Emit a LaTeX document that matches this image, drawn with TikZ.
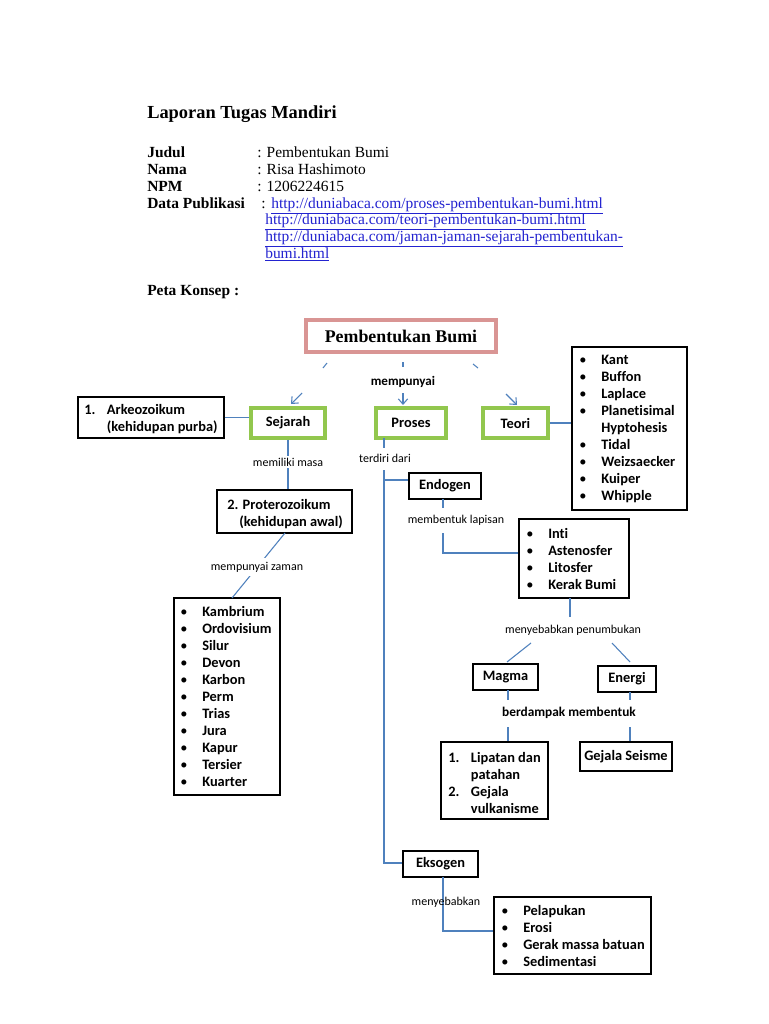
\documentclass[tikz,border=0pt]{standalone}
\usepackage{fontspec}
\setmainfont{Liberation Serif}
\newfontfamily\calfont[Ligatures=NoCommon]{Carlito}
\usetikzlibrary{fit,arrows.meta}
\definecolor{pinkb}{HTML}{D99594}
\definecolor{greenb}{HTML}{92C74E}
\definecolor{lineb}{HTML}{4F81BD}
\definecolor{linkb}{HTML}{2323D0}
\newcommand\bl{\textmd{\textbullet}}
\newcommand\blist[1]{\begin{tabular}[t]{@{}p{16.5pt}@{}l@{}}#1\end{tabular}}
\newcommand\nlist[1]{\begin{tabular}[t]{@{}p{17pt}@{}l@{}}#1\end{tabular}}
\tikzset{
  hdr/.style={anchor=base west, inner sep=0, font=\fontsize{11.6}{14}\selectfont},
  hdrb/.style={hdr, font=\bfseries\fontsize{11.6}{14}\selectfont},
  lnk/.style={hdr, text=linkb},
  blkbox/.style={draw=black, line width=0.9pt, inner sep=0},
  grnbox/.style={draw=greenb, line width=2.6pt, inner sep=0},
  boxtxt/.style={inner sep=0, font=\calfont\bfseries\fontsize{10.8}{12.75}\selectfont},
  listtxt/.style={anchor=base west, inner sep=0, font=\calfont\bfseries\fontsize{10.8}{12.75}\selectfont},
  conn/.style={draw=lineb, line width=0.8pt},
  arr/.style={draw=lineb, line width=0.8pt, -{Straight Barb[length=4pt,width=7pt]}},
  lbl/.style={inner sep=1pt, fill=white, font=\calfont\fontsize{9}{11}\selectfont},
}
\begin{document}
\begin{tikzpicture}[x=0.75pt,y=-0.75pt]
\useasboundingbox (0,0) rectangle (768,1024);
\fill[white] (0,0) rectangle (768,1024);
% header
\node[anchor=base west, inner sep=0, font=\bfseries\fontsize{13.8}{16}\selectfont] (title) at (147,118) {Laporan Tugas Mandiri};
\node[hdrb] (kjudul) at (147,157) {Judul};
\node[hdrb] (knama) at (147,174) {Nama};
\node[hdrb] (knpm) at (147,191) {NPM};
\node[hdrb] (kdata) at (147,208) {Data Publikasi};
\node[hdr] (vjudul) at (257,157) {: Pembentukan Bumi};
\node[hdr] (vnama) at (257,174) {: Risa Hashimoto};
\node[hdr] (vnpm) at (257,191) {: 1206224615};
\node[hdr] (vcol) at (261,208) {:};
\node[lnk] (l1) at (271,208) {\underline{http://duniabaca.com/proses-pembentukan-bumi.html}};
\node[lnk] (l2) at (265,224) {\underline{http://duniabaca.com/teori-pembentukan-bumi.html}};
\node[lnk] (l3) at (265,241) {\underline{http://duniabaca.com/jaman-jaman-sejarah-pembentukan-}};
\node[lnk] (l4) at (265,258) {\underline{bumi.html}};
\node[hdrb] (peta) at (147,295) {Peta Konsep :};

% main title box
\node[draw=pinkb, line width=2.6pt, inner sep=0, fit={(306,320)(496,352)}] (pb) {};
\node[inner sep=0, font=\bfseries\fontsize{13.4}{16}\selectfont] (pbt) at (pb.center) {Pembentukan Bumi};

% level 1
\node[grnbox, fit={(251,408)(325,438)}] (sej) {};
\node[boxtxt] (sejt) at (sej.center) {Sejarah};
\node[grnbox, fit={(376,408)(446,438)}] (pros) {};
\node[boxtxt] (prost) at (pros.center) {Proses};
\node[grnbox, fit={(483,408)(548,438)}] (teori) {};
\node[boxtxt] (teorit) at (teori.center) {Teori};
\node[inner sep=1pt, font=\calfont\bfseries\fontsize{9.8}{12}\selectfont] (mpy) at (403,382) {mempunyai};

% arrows from title
\coordinate (ta1) at (327,363); \coordinate (tb1) at (323,368);
\coordinate (tc1) at (302,393); \coordinate (td1) at (291,404);
\draw[conn] (ta1) -- (tb1);
\draw[arr] (tc1) -- (td1);
\coordinate (ta2) at (403,362); \coordinate (tb2) at (403,367);
\coordinate (tc2) at (403,393); \coordinate (td2) at (403,405);
\draw[conn] (ta2) -- (tb2);
\draw[arr] (tc2) -- (td2);
\coordinate (ta3) at (473,364); \coordinate (tb3) at (478,368);
\coordinate (tc3) at (506,394); \coordinate (td3) at (517,405);
\draw[conn] (ta3) -- (tb3);
\draw[arr] (tc3) -- (td3);

% Arkeozoikum
\node[blkbox, fit={(78,397)(224,438)}] (arkeo) {};
\node[listtxt] (arkeot) at (84,414) {\nlist{1. & Arkeozoikum\\ & (kehidupan purba)}};
\draw[conn] (arkeo.east) -- (arkeo.east -| sej.west);

% Teori list
\node[blkbox, fit={(572,347)(687,510)}] (tlist) {};
\node[listtxt] (tlistt) at (579,364) {\blist{\bl & Kant\\ \bl & Buffon\\ \bl & Laplace\\ \bl & Planetisimal\\ & Hyptohesis\\ \bl & Tidal\\ \bl & Weizsaecker\\ \bl & Kuiper\\ \bl & Whipple}};
\draw[conn] (teori.east) -- (teori.east -| tlist.west);

% Sejarah branch
\node[blkbox, fit={(217,490)(352,533)}] (prot) {};
\node[listtxt] (prott) at (227,509) {\begin{tabular}[t]{@{}l@{}}2. Proterozoikum\\ \hspace{9pt}(kehidupan awal)\end{tabular}};
\draw[conn] (sej.south) -- (sej.south |- prot.north);
\node[lbl] (mmasa) at (288,462) {memiliki masa};

\node[blkbox, fit={(174,598)(280,795)}] (zaman) {};
\node[listtxt] (zamant) at (180,616) {\blist{\bl & Kambrium\\ \bl & Ordovisium\\ \bl & Silur\\ \bl & Devon\\ \bl & Karbon\\ \bl & Perm\\ \bl & Trias\\ \bl & Jura\\ \bl & Kapur\\ \bl & Tersier\\ \bl & Kuarter}};
\coordinate (pz1) at (285,533); \coordinate (pz2) at (232,598);
\draw[conn] (pz1) -- (pz2);
\node[lbl, inner ysep=3pt] (mzaman) at (257,567) {mempunyai zaman};

% Proses branch
\coordinate (trtop) at (384,438);
\coordinate (trmid) at (384,470);
\coordinate (trbot) at (384,863);
\draw[conn] (trtop) -- ++(0,10);
\node[lbl] (terdiri) at (385,458) {terdiri dari};
\node[blkbox, fit={(409,473)(481,499)}] (endo) {};
\node[boxtxt] (endot) at (endo.center) {Endogen};
\node[blkbox, fit={(403,851)(478,877)}] (eks) {};
\node[boxtxt] (ekst) at (eks.center) {Eksogen};
\draw[conn] (trmid) -- (trbot) -- (trbot -| eks.west);
\coordinate (eb) at (384,480);
\draw[conn] (eb) -- (eb -| endo.west);

% Endogen
\node[blkbox, fit={(519,519)(629,598)}] (layer) {};
\node[listtxt] (layert) at (526,538) {\blist{\bl & Inti\\ \bl & Astenosfer\\ \bl & Litosfer\\ \bl & Kerak Bumi}};
\coordinate (en1) at (443,499); \coordinate (en2) at (443,508);
\coordinate (en3) at (443,533); \coordinate (en4) at (443,553);
\draw[conn] (en1) -- (en2);
\draw[conn] (en3) -- (en4) -- (en4 -| layer.west);
\node[inner sep=1pt, font=\calfont\fontsize{9}{11}\selectfont] (mlap) at (456,520) {membentuk lapisan};

% penumbukan
\coordinate (ly1) at (570,598); \coordinate (ly2) at (570,617);
\draw[conn] (ly1) -- (ly2);
\node[inner sep=1pt, font=\calfont\fontsize{9}{11}\selectfont] (penum) at (573,630) {menyebabkan penumbukan};
\node[blkbox, fit={(473,664)(538,690)}] (magma) {};
\node[boxtxt] (magmat) at (magma.center) {Magma};
\node[blkbox, fit={(598,666)(656,692)}] (energi) {};
\node[boxtxt] (energit) at (energi.center) {Energi};
\coordinate (dg1) at (531,643); \coordinate (dg2) at (507,662);
\coordinate (dg3) at (612,643); \coordinate (dg4) at (630,662);
\draw[conn] (dg1) -- (dg2);
\draw[conn] (dg3) -- (dg4);

\node[inner sep=1pt, font=\calfont\bfseries\fontsize{10}{12}\selectfont] (berd) at (569,713) {berdampak membentuk};
\node[blkbox, fit={(441,742)(548,819)}] (lip) {};
\node[listtxt] (lipt) at (448,762) {\begin{tabular}[t]{@{}p{17pt}@{}l@{}}1. & Lipatan dan\\ & patahan\\ 2. & Gejala\\ & vulkanisme\end{tabular}};
\node[blkbox, fit={(580,742)(672,771)}] (seis) {};
\node[boxtxt] (seist) at (seis.center) {Gejala Seisme};
\coordinate (mg1) at (508,690); \coordinate (mg2) at (508,700);
\coordinate (mg3) at (508,727);
\draw[conn] (mg1) -- (mg2);
\draw[conn] (mg3) -- (mg3 |- lip.north);
\coordinate (eg1) at (630,692); \coordinate (eg2) at (630,700);
\coordinate (eg3) at (630,727);
\draw[conn] (eg1) -- (eg2);
\draw[conn] (eg3) -- (eg3 |- seis.north);

% Eksogen
\node[blkbox, fit={(494,897)(651,974)}] (ekslist) {};
\node[listtxt] (ekslistt) at (501,915) {\blist{\bl & Pelapukan\\ \bl & Erosi\\ \bl & Gerak massa batuan\\ \bl & Sedimentasi}};
\coordinate (ek1) at (443,877); \coordinate (ek2) at (443,931);
\draw[conn] (ek1) -- (ek2) -- (ek2 -| ekslist.west);
\node[inner sep=0pt, font=\calfont\fontsize{9}{11}\selectfont] (menyeb) at (446,902) {menyebabkan};
\end{tikzpicture}
\end{document}
